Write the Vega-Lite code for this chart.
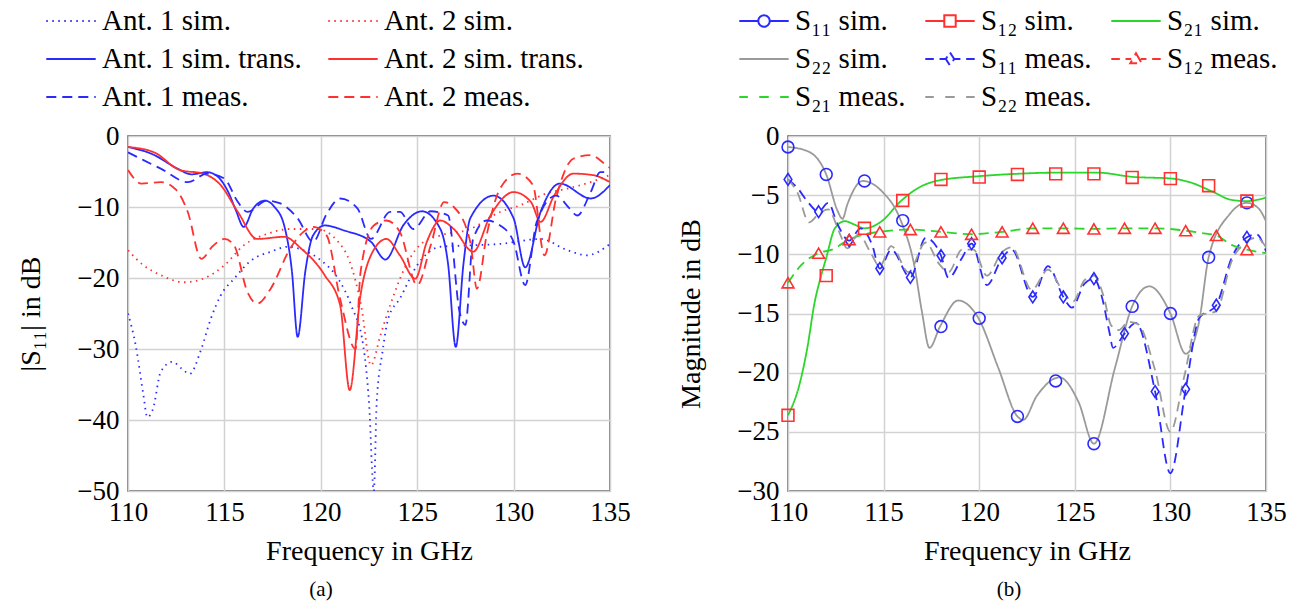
{
  "$schema": "https://vega.github.io/schema/vega-lite/v6.json",
  "background": "white",
  "padding": {"left": 17, "top": 0, "right": 5, "bottom": 5},
  "spacing": 46,
  "resolve": {
    "scale": {"color": "independent", "strokeDash": "independent", "x": "independent", "y": "independent", "shape": "independent"},
    "legend": {"color": "independent", "strokeDash": "independent", "shape": "independent"}
  },
  "config": {
    "font": "Liberation Serif",
    "view": {"stroke": "#555555", "strokeWidth": 1.5},
    "axis": {
      "labelFont": "Liberation Serif",
      "labelFontSize": 27,
      "labelColor": "black",
      "titleFont": "Liberation Serif",
      "titleFontSize": 28,
      "titleFontWeight": "normal",
      "titleColor": "black",
      "grid": true,
      "gridColor": "#d2d2d2",
      "gridWidth": 1.5,
      "domain": false,
      "ticks": false,
      "labelFlush": false,
      "labelOverlap": false
    },
    "legend": {
      "labelFont": "Liberation Serif",
      "labelFontSize": 29,
      "labelColor": "black",
      "labelLimit": 400,
      "symbolStrokeWidth": 2,
      "symbolSize": 1444,
      "labelOffset": 11,
      "rowPadding": 3,
      "direction": "horizontal",
      "symbolType": "M-1.3,0H1.3"
    },
    "title": {"font": "Liberation Serif", "fontWeight": "normal", "color": "black", "fontSize": 21}
  },
  "datasets": {
    "a": [
      {"series": "Ant. 1 sim.", "freq": 110, "mag": -25.0},
      {"series": "Ant. 1 sim.", "freq": 110.4, "mag": -29.5},
      {"series": "Ant. 1 sim.", "freq": 110.8, "mag": -36.5},
      {"series": "Ant. 1 sim.", "freq": 111.0, "mag": -39.6},
      {"series": "Ant. 1 sim.", "freq": 111.3, "mag": -38.4},
      {"series": "Ant. 1 sim.", "freq": 111.7, "mag": -33.2},
      {"series": "Ant. 1 sim.", "freq": 112.3, "mag": -31.8},
      {"series": "Ant. 1 sim.", "freq": 112.8, "mag": -32.8},
      {"series": "Ant. 1 sim.", "freq": 113.2, "mag": -33.5},
      {"series": "Ant. 1 sim.", "freq": 113.8, "mag": -30.0},
      {"series": "Ant. 1 sim.", "freq": 114.3, "mag": -25.7},
      {"series": "Ant. 1 sim.", "freq": 114.8, "mag": -22.5},
      {"series": "Ant. 1 sim.", "freq": 115.5, "mag": -20.1},
      {"series": "Ant. 1 sim.", "freq": 116.4, "mag": -17.5},
      {"series": "Ant. 1 sim.", "freq": 117.4, "mag": -16.3},
      {"series": "Ant. 1 sim.", "freq": 118.3, "mag": -15.6},
      {"series": "Ant. 1 sim.", "freq": 119.1, "mag": -16.1},
      {"series": "Ant. 1 sim.", "freq": 120.0, "mag": -17.5},
      {"series": "Ant. 1 sim.", "freq": 120.9, "mag": -20.1},
      {"series": "Ant. 1 sim.", "freq": 121.6, "mag": -24.0},
      {"series": "Ant. 1 sim.", "freq": 122.2, "mag": -29.5},
      {"series": "Ant. 1 sim.", "freq": 122.5, "mag": -37.5},
      {"series": "Ant. 1 sim.", "freq": 122.75, "mag": -50.0},
      {"series": "Ant. 1 sim.", "freq": 122.9, "mag": -37.5},
      {"series": "Ant. 1 sim.", "freq": 123.2, "mag": -30.4},
      {"series": "Ant. 1 sim.", "freq": 123.5, "mag": -25.7},
      {"series": "Ant. 1 sim.", "freq": 124.1, "mag": -22.9},
      {"series": "Ant. 1 sim.", "freq": 125.0, "mag": -18.2},
      {"series": "Ant. 1 sim.", "freq": 126.2, "mag": -15.6},
      {"series": "Ant. 1 sim.", "freq": 127.75, "mag": -15.4},
      {"series": "Ant. 1 sim.", "freq": 129.3, "mag": -15.2},
      {"series": "Ant. 1 sim.", "freq": 131.4, "mag": -14.5},
      {"series": "Ant. 1 sim.", "freq": 132.8, "mag": -16.1},
      {"series": "Ant. 1 sim.", "freq": 133.8, "mag": -16.8},
      {"series": "Ant. 1 sim.", "freq": 135, "mag": -15.2},

      {"series": "Ant. 2 sim.", "freq": 110, "mag": -16.1},
      {"series": "Ant. 2 sim.", "freq": 110.8, "mag": -18.2},
      {"series": "Ant. 2 sim.", "freq": 111.7, "mag": -19.6},
      {"series": "Ant. 2 sim.", "freq": 112.9, "mag": -20.6},
      {"series": "Ant. 2 sim.", "freq": 113.9, "mag": -20.1},
      {"series": "Ant. 2 sim.", "freq": 115.0, "mag": -18.2},
      {"series": "Ant. 2 sim.", "freq": 116.0, "mag": -15.4},
      {"series": "Ant. 2 sim.", "freq": 117.2, "mag": -13.8},
      {"series": "Ant. 2 sim.", "freq": 118.4, "mag": -13.1},
      {"series": "Ant. 2 sim.", "freq": 119.8, "mag": -13.1},
      {"series": "Ant. 2 sim.", "freq": 120.9, "mag": -14.9},
      {"series": "Ant. 2 sim.", "freq": 121.5, "mag": -17.7},
      {"series": "Ant. 2 sim.", "freq": 122.1, "mag": -24.0},
      {"series": "Ant. 2 sim.", "freq": 122.6, "mag": -32.3},
      {"series": "Ant. 2 sim.", "freq": 123.1, "mag": -28.0},
      {"series": "Ant. 2 sim.", "freq": 123.6, "mag": -23.8},
      {"series": "Ant. 2 sim.", "freq": 124.6, "mag": -17.3},
      {"series": "Ant. 2 sim.", "freq": 125.2, "mag": -15.2},
      {"series": "Ant. 2 sim.", "freq": 126.2, "mag": -14.0},
      {"series": "Ant. 2 sim.", "freq": 127.75, "mag": -13.1},
      {"series": "Ant. 2 sim.", "freq": 129.3, "mag": -10.7},
      {"series": "Ant. 2 sim.", "freq": 130.3, "mag": -9.8},
      {"series": "Ant. 2 sim.", "freq": 131.7, "mag": -8.1},
      {"series": "Ant. 2 sim.", "freq": 132.8, "mag": -7.4},
      {"series": "Ant. 2 sim.", "freq": 134.0, "mag": -6.5},
      {"series": "Ant. 2 sim.", "freq": 135, "mag": -5.5},

      {"series": "Ant. 1 sim. trans.", "freq": 110, "mag": -1.55},
      {"series": "Ant. 1 sim. trans.", "freq": 111.3, "mag": -2.6},
      {"series": "Ant. 1 sim. trans.", "freq": 112.57, "mag": -4.6},
      {"series": "Ant. 1 sim. trans.", "freq": 113.3, "mag": -5.4},
      {"series": "Ant. 1 sim. trans.", "freq": 114.1, "mag": -5.1},
      {"series": "Ant. 1 sim. trans.", "freq": 114.6, "mag": -5.6},
      {"series": "Ant. 1 sim. trans.", "freq": 115.2, "mag": -7.9},
      {"series": "Ant. 1 sim. trans.", "freq": 115.6, "mag": -10.5},
      {"series": "Ant. 1 sim. trans.", "freq": 116.0, "mag": -12.8},
      {"series": "Ant. 1 sim. trans.", "freq": 116.5, "mag": -10.2},
      {"series": "Ant. 1 sim. trans.", "freq": 117.1, "mag": -9.1},
      {"series": "Ant. 1 sim. trans.", "freq": 117.6, "mag": -10.0},
      {"series": "Ant. 1 sim. trans.", "freq": 118.1, "mag": -12.6},
      {"series": "Ant. 1 sim. trans.", "freq": 118.5, "mag": -19.0},
      {"series": "Ant. 1 sim. trans.", "freq": 118.8, "mag": -28.3},
      {"series": "Ant. 1 sim. trans.", "freq": 119.2, "mag": -19.0},
      {"series": "Ant. 1 sim. trans.", "freq": 119.6, "mag": -14.0},
      {"series": "Ant. 1 sim. trans.", "freq": 120.2, "mag": -12.6},
      {"series": "Ant. 1 sim. trans.", "freq": 121.2, "mag": -13.3},
      {"series": "Ant. 1 sim. trans.", "freq": 122.6, "mag": -14.9},
      {"series": "Ant. 1 sim. trans.", "freq": 123.35, "mag": -17.4},
      {"series": "Ant. 1 sim. trans.", "freq": 124.3, "mag": -12.5},
      {"series": "Ant. 1 sim. trans.", "freq": 125.25, "mag": -10.6},
      {"series": "Ant. 1 sim. trans.", "freq": 126.2, "mag": -13.1},
      {"series": "Ant. 1 sim. trans.", "freq": 126.6, "mag": -18.0},
      {"series": "Ant. 1 sim. trans.", "freq": 127.0, "mag": -29.7},
      {"series": "Ant. 1 sim. trans.", "freq": 127.4, "mag": -18.0},
      {"series": "Ant. 1 sim. trans.", "freq": 127.75, "mag": -11.6},
      {"series": "Ant. 1 sim. trans.", "freq": 128.96, "mag": -8.4},
      {"series": "Ant. 1 sim. trans.", "freq": 130.0, "mag": -11.6},
      {"series": "Ant. 1 sim. trans.", "freq": 130.6, "mag": -18.5},
      {"series": "Ant. 1 sim. trans.", "freq": 131.4, "mag": -10.7},
      {"series": "Ant. 1 sim. trans.", "freq": 132.4, "mag": -6.7},
      {"series": "Ant. 1 sim. trans.", "freq": 134.0, "mag": -8.8},
      {"series": "Ant. 1 sim. trans.", "freq": 135, "mag": -6.9},

      {"series": "Ant. 2 sim. trans.", "freq": 110, "mag": -1.55},
      {"series": "Ant. 2 sim. trans.", "freq": 111.35, "mag": -2.3},
      {"series": "Ant. 2 sim. trans.", "freq": 112.7, "mag": -4.8},
      {"series": "Ant. 2 sim. trans.", "freq": 113.9, "mag": -5.3},
      {"series": "Ant. 2 sim. trans.", "freq": 114.8, "mag": -6.9},
      {"series": "Ant. 2 sim. trans.", "freq": 115.7, "mag": -10.7},
      {"series": "Ant. 2 sim. trans.", "freq": 116.7, "mag": -14.5},
      {"series": "Ant. 2 sim. trans.", "freq": 118.1, "mag": -14.2},
      {"series": "Ant. 2 sim. trans.", "freq": 119.0, "mag": -15.9},
      {"series": "Ant. 2 sim. trans.", "freq": 120.2, "mag": -19.6},
      {"series": "Ant. 2 sim. trans.", "freq": 121.0, "mag": -23.8},
      {"series": "Ant. 2 sim. trans.", "freq": 121.5, "mag": -35.8},
      {"series": "Ant. 2 sim. trans.", "freq": 122.06, "mag": -22.4},
      {"series": "Ant. 2 sim. trans.", "freq": 122.6, "mag": -16.8},
      {"series": "Ant. 2 sim. trans.", "freq": 123.4, "mag": -14.5},
      {"series": "Ant. 2 sim. trans.", "freq": 124.1, "mag": -16.8},
      {"series": "Ant. 2 sim. trans.", "freq": 124.9, "mag": -20.1},
      {"series": "Ant. 2 sim. trans.", "freq": 125.5, "mag": -14.9},
      {"series": "Ant. 2 sim. trans.", "freq": 126.2, "mag": -11.9},
      {"series": "Ant. 2 sim. trans.", "freq": 126.9, "mag": -13.1},
      {"series": "Ant. 2 sim. trans.", "freq": 127.9, "mag": -16.3},
      {"series": "Ant. 2 sim. trans.", "freq": 128.8, "mag": -11.2},
      {"series": "Ant. 2 sim. trans.", "freq": 130.0, "mag": -7.9},
      {"series": "Ant. 2 sim. trans.", "freq": 130.9, "mag": -9.3},
      {"series": "Ant. 2 sim. trans.", "freq": 131.4, "mag": -12.1},
      {"series": "Ant. 2 sim. trans.", "freq": 132.1, "mag": -8.4},
      {"series": "Ant. 2 sim. trans.", "freq": 133.1, "mag": -5.3},
      {"series": "Ant. 2 sim. trans.", "freq": 134.1, "mag": -5.5},
      {"series": "Ant. 2 sim. trans.", "freq": 135, "mag": -6.5},

      {"series": "Ant. 1 meas.", "freq": 110, "mag": -2.3},
      {"series": "Ant. 1 meas.", "freq": 110.8, "mag": -3.4},
      {"series": "Ant. 1 meas.", "freq": 111.7, "mag": -4.6},
      {"series": "Ant. 1 meas.", "freq": 113.1, "mag": -6.5},
      {"series": "Ant. 1 meas.", "freq": 114.1, "mag": -5.3},
      {"series": "Ant. 1 meas.", "freq": 115.0, "mag": -6.0},
      {"series": "Ant. 1 meas.", "freq": 115.7, "mag": -9.3},
      {"series": "Ant. 1 meas.", "freq": 116.2, "mag": -10.7},
      {"series": "Ant. 1 meas.", "freq": 117.2, "mag": -9.1},
      {"series": "Ant. 1 meas.", "freq": 117.9, "mag": -9.5},
      {"series": "Ant. 1 meas.", "freq": 118.8, "mag": -11.6},
      {"series": "Ant. 1 meas.", "freq": 119.6, "mag": -14.9},
      {"series": "Ant. 1 meas.", "freq": 120.3, "mag": -11.0},
      {"series": "Ant. 1 meas.", "freq": 121.0, "mag": -8.8},
      {"series": "Ant. 1 meas.", "freq": 121.9, "mag": -10.2},
      {"series": "Ant. 1 meas.", "freq": 122.6, "mag": -14.5},
      {"series": "Ant. 1 meas.", "freq": 123.6, "mag": -10.7},
      {"series": "Ant. 1 meas.", "freq": 124.1, "mag": -10.7},
      {"series": "Ant. 1 meas.", "freq": 124.8, "mag": -13.1},
      {"series": "Ant. 1 meas.", "freq": 125.7, "mag": -10.6},
      {"series": "Ant. 1 meas.", "freq": 126.6, "mag": -11.2},
      {"series": "Ant. 1 meas.", "freq": 127.2, "mag": -24.8},
      {"series": "Ant. 1 meas.", "freq": 127.5, "mag": -26.6},
      {"series": "Ant. 1 meas.", "freq": 127.9, "mag": -14.5},
      {"series": "Ant. 1 meas.", "freq": 128.6, "mag": -11.9},
      {"series": "Ant. 1 meas.", "freq": 129.3, "mag": -12.6},
      {"series": "Ant. 1 meas.", "freq": 130.0, "mag": -14.9},
      {"series": "Ant. 1 meas.", "freq": 130.6, "mag": -21.0},
      {"series": "Ant. 1 meas.", "freq": 131.2, "mag": -12.1},
      {"series": "Ant. 1 meas.", "freq": 132.2, "mag": -8.4},
      {"series": "Ant. 1 meas.", "freq": 132.9, "mag": -10.2},
      {"series": "Ant. 1 meas.", "freq": 133.3, "mag": -11.2},
      {"series": "Ant. 1 meas.", "freq": 134.0, "mag": -7.9},
      {"series": "Ant. 1 meas.", "freq": 134.5, "mag": -5.1},
      {"series": "Ant. 1 meas.", "freq": 135, "mag": -5.1},

      {"series": "Ant. 2 meas.", "freq": 110, "mag": -4.8},
      {"series": "Ant. 2 meas.", "freq": 110.7, "mag": -6.7},
      {"series": "Ant. 2 meas.", "freq": 111.7, "mag": -6.5},
      {"series": "Ant. 2 meas.", "freq": 112.5, "mag": -7.6},
      {"series": "Ant. 2 meas.", "freq": 113.1, "mag": -10.7},
      {"series": "Ant. 2 meas.", "freq": 113.8, "mag": -17.3},
      {"series": "Ant. 2 meas.", "freq": 114.4, "mag": -15.5},
      {"series": "Ant. 2 meas.", "freq": 115.0, "mag": -14.5},
      {"series": "Ant. 2 meas.", "freq": 115.5, "mag": -15.4},
      {"series": "Ant. 2 meas.", "freq": 116.2, "mag": -22.0},
      {"series": "Ant. 2 meas.", "freq": 116.7, "mag": -23.6},
      {"series": "Ant. 2 meas.", "freq": 117.4, "mag": -21.5},
      {"series": "Ant. 2 meas.", "freq": 118.4, "mag": -15.9},
      {"series": "Ant. 2 meas.", "freq": 119.1, "mag": -13.5},
      {"series": "Ant. 2 meas.", "freq": 119.6, "mag": -12.8},
      {"series": "Ant. 2 meas.", "freq": 120.3, "mag": -14.0},
      {"series": "Ant. 2 meas.", "freq": 121.0, "mag": -22.9},
      {"series": "Ant. 2 meas.", "freq": 121.8, "mag": -30.0},
      {"series": "Ant. 2 meas.", "freq": 122.06, "mag": -19.2},
      {"series": "Ant. 2 meas.", "freq": 122.75, "mag": -12.6},
      {"series": "Ant. 2 meas.", "freq": 123.4, "mag": -11.9},
      {"series": "Ant. 2 meas.", "freq": 124.1, "mag": -13.5},
      {"series": "Ant. 2 meas.", "freq": 125.0, "mag": -21.0},
      {"series": "Ant. 2 meas.", "freq": 125.7, "mag": -15.4},
      {"series": "Ant. 2 meas.", "freq": 126.4, "mag": -9.3},
      {"series": "Ant. 2 meas.", "freq": 126.9, "mag": -10.0},
      {"series": "Ant. 2 meas.", "freq": 127.75, "mag": -14.9},
      {"series": "Ant. 2 meas.", "freq": 128.1, "mag": -21.5},
      {"series": "Ant. 2 meas.", "freq": 128.6, "mag": -14.0},
      {"series": "Ant. 2 meas.", "freq": 129.3, "mag": -7.4},
      {"series": "Ant. 2 meas.", "freq": 130.2, "mag": -5.3},
      {"series": "Ant. 2 meas.", "freq": 131.0, "mag": -6.9},
      {"series": "Ant. 2 meas.", "freq": 131.6, "mag": -16.8},
      {"series": "Ant. 2 meas.", "freq": 132.2, "mag": -8.8},
      {"series": "Ant. 2 meas.", "freq": 133.1, "mag": -3.2},
      {"series": "Ant. 2 meas.", "freq": 134.0, "mag": -2.7},
      {"series": "Ant. 2 meas.", "freq": 134.8, "mag": -4.1},
      {"series": "Ant. 2 meas.", "freq": 135, "mag": -4.5}
    ],
    "b": [
      {"series": "S₂₁ sim.", "freq": 110, "mag": -23.6},
      {"series": "S₂₁ sim.", "freq": 110.6, "mag": -21.0},
      {"series": "S₂₁ sim.", "freq": 111.0, "mag": -18.0},
      {"series": "S₂₁ sim.", "freq": 111.4, "mag": -14.0},
      {"series": "S₂₁ sim.", "freq": 111.7, "mag": -12.0},
      {"series": "S₂₁ sim.", "freq": 112.0, "mag": -10.3},
      {"series": "S₂₁ sim.", "freq": 112.45, "mag": -7.8},
      {"series": "S₂₁ sim.", "freq": 112.97, "mag": -7.2},
      {"series": "S₂₁ sim.", "freq": 113.5, "mag": -7.5},
      {"series": "S₂₁ sim.", "freq": 114.0, "mag": -7.8},
      {"series": "S₂₁ sim.", "freq": 114.9, "mag": -7.2},
      {"series": "S₂₁ sim.", "freq": 115.9, "mag": -5.5},
      {"series": "S₂₁ sim.", "freq": 116.8, "mag": -4.4},
      {"series": "S₂₁ sim.", "freq": 117.9, "mag": -3.75},
      {"series": "S₂₁ sim.", "freq": 119.96, "mag": -3.4},
      {"series": "S₂₁ sim.", "freq": 121.9, "mag": -3.2},
      {"series": "S₂₁ sim.", "freq": 124.0, "mag": -3.1},
      {"series": "S₂₁ sim.", "freq": 126.2, "mag": -3.1},
      {"series": "S₂₁ sim.", "freq": 128.0, "mag": -3.45},
      {"series": "S₂₁ sim.", "freq": 130.1, "mag": -3.6},
      {"series": "S₂₁ sim.", "freq": 131.1, "mag": -3.95},
      {"series": "S₂₁ sim.", "freq": 132.2, "mag": -4.7},
      {"series": "S₂₁ sim.", "freq": 133.2, "mag": -5.4},
      {"series": "S₂₁ sim.", "freq": 134.0, "mag": -5.5},
      {"series": "S₂₁ sim.", "freq": 135, "mag": -5.2},

      {"series": "S₂₂ sim.", "freq": 110, "mag": -0.93},
      {"series": "S₂₂ sim.", "freq": 111.05, "mag": -1.3},
      {"series": "S₂₂ sim.", "freq": 112.0, "mag": -3.25},
      {"series": "S₂₂ sim.", "freq": 112.6, "mag": -6.36},
      {"series": "S₂₂ sim.", "freq": 112.85, "mag": -7.0},
      {"series": "S₂₂ sim.", "freq": 113.1, "mag": -5.8},
      {"series": "S₂₂ sim.", "freq": 113.9, "mag": -3.8},
      {"series": "S₂₂ sim.", "freq": 114.9, "mag": -4.66},
      {"series": "S₂₂ sim.", "freq": 115.9, "mag": -7.15},
      {"series": "S₂₂ sim.", "freq": 116.6, "mag": -10.9},
      {"series": "S₂₂ sim.", "freq": 117.0, "mag": -14.8},
      {"series": "S₂₂ sim.", "freq": 117.4, "mag": -17.9},
      {"series": "S₂₂ sim.", "freq": 117.95, "mag": -16.1},
      {"series": "S₂₂ sim.", "freq": 118.9, "mag": -13.9},
      {"series": "S₂₂ sim.", "freq": 119.96, "mag": -15.4},
      {"series": "S₂₂ sim.", "freq": 121.0, "mag": -19.6},
      {"series": "S₂₂ sim.", "freq": 122.0, "mag": -23.7},
      {"series": "S₂₂ sim.", "freq": 122.3, "mag": -24.0},
      {"series": "S₂₂ sim.", "freq": 123.0, "mag": -22.0},
      {"series": "S₂₂ sim.", "freq": 124.2, "mag": -20.4},
      {"series": "S₂₂ sim.", "freq": 125.2, "mag": -22.5},
      {"series": "S₂₂ sim.", "freq": 126.0, "mag": -26.0},
      {"series": "S₂₂ sim.", "freq": 127.1, "mag": -19.6},
      {"series": "S₂₂ sim.", "freq": 128.0, "mag": -14.4},
      {"series": "S₂₂ sim.", "freq": 128.9, "mag": -12.7},
      {"series": "S₂₂ sim.", "freq": 130.0, "mag": -15.0},
      {"series": "S₂₂ sim.", "freq": 130.8, "mag": -18.4},
      {"series": "S₂₂ sim.", "freq": 131.5, "mag": -15.7},
      {"series": "S₂₂ sim.", "freq": 132.0, "mag": -10.25},
      {"series": "S₂₂ sim.", "freq": 133.1, "mag": -6.6},
      {"series": "S₂₂ sim.", "freq": 134.0, "mag": -5.65},
      {"series": "S₂₂ sim.", "freq": 134.6, "mag": -6.1},
      {"series": "S₂₂ sim.", "freq": 135, "mag": -7.2},

      {"series": "S₁₁ meas.", "freq": 110, "mag": -3.67},
      {"series": "S₁₁ meas.", "freq": 110.5, "mag": -4.4},
      {"series": "S₁₁ meas.", "freq": 111.0, "mag": -5.5},
      {"series": "S₁₁ meas.", "freq": 111.6, "mag": -6.4},
      {"series": "S₁₁ meas.", "freq": 112.1, "mag": -5.65},
      {"series": "S₁₁ meas.", "freq": 112.6, "mag": -7.5},
      {"series": "S₁₁ meas.", "freq": 113.2, "mag": -8.84},
      {"series": "S₁₁ meas.", "freq": 113.8, "mag": -7.8},
      {"series": "S₁₁ meas.", "freq": 114.4, "mag": -9.2},
      {"series": "S₁₁ meas.", "freq": 114.8, "mag": -11.2},
      {"series": "S₁₁ meas.", "freq": 115.4, "mag": -9.6},
      {"series": "S₁₁ meas.", "freq": 116.4, "mag": -11.95},
      {"series": "S₁₁ meas.", "freq": 117.2, "mag": -8.6},
      {"series": "S₁₁ meas.", "freq": 118.0, "mag": -10.1},
      {"series": "S₁₁ meas.", "freq": 118.4, "mag": -12.0},
      {"series": "S₁₁ meas.", "freq": 119.1, "mag": -10.3},
      {"series": "S₁₁ meas.", "freq": 119.6, "mag": -9.1},
      {"series": "S₁₁ meas.", "freq": 120.4, "mag": -12.6},
      {"series": "S₁₁ meas.", "freq": 121.2, "mag": -10.3},
      {"series": "S₁₁ meas.", "freq": 121.7, "mag": -9.6},
      {"series": "S₁₁ meas.", "freq": 122.8, "mag": -13.6},
      {"series": "S₁₁ meas.", "freq": 123.6, "mag": -11.0},
      {"series": "S₁₁ meas.", "freq": 124.4, "mag": -13.6},
      {"series": "S₁₁ meas.", "freq": 124.85, "mag": -14.5},
      {"series": "S₁₁ meas.", "freq": 125.5, "mag": -12.5},
      {"series": "S₁₁ meas.", "freq": 126.0, "mag": -12.06},
      {"series": "S₁₁ meas.", "freq": 126.4, "mag": -13.5},
      {"series": "S₁₁ meas.", "freq": 126.8, "mag": -16.5},
      {"series": "S₁₁ meas.", "freq": 127.0, "mag": -17.9},
      {"series": "S₁₁ meas.", "freq": 127.6, "mag": -16.7},
      {"series": "S₁₁ meas.", "freq": 128.2, "mag": -15.8},
      {"series": "S₁₁ meas.", "freq": 129.2, "mag": -21.6},
      {"series": "S₁₁ meas.", "freq": 130.0, "mag": -28.5},
      {"series": "S₁₁ meas.", "freq": 130.8, "mag": -21.4},
      {"series": "S₁₁ meas.", "freq": 131.5, "mag": -15.4},
      {"series": "S₁₁ meas.", "freq": 132.4, "mag": -14.3},
      {"series": "S₁₁ meas.", "freq": 133.2, "mag": -10.3},
      {"series": "S₁₁ meas.", "freq": 134.0, "mag": -8.56},
      {"series": "S₁₁ meas.", "freq": 134.5, "mag": -8.3},
      {"series": "S₁₁ meas.", "freq": 135, "mag": -9.75},

      {"series": "S₂₁ meas.", "freq": 110, "mag": -12.4},
      {"series": "S₂₁ meas.", "freq": 110.7, "mag": -10.9},
      {"series": "S₂₁ meas.", "freq": 111.6, "mag": -9.9},
      {"series": "S₂₁ meas.", "freq": 112.3, "mag": -9.6},
      {"series": "S₂₁ meas.", "freq": 113.2, "mag": -8.75},
      {"series": "S₂₁ meas.", "freq": 114.0, "mag": -8.3},
      {"series": "S₂₁ meas.", "freq": 114.8, "mag": -8.1},
      {"series": "S₂₁ meas.", "freq": 116.4, "mag": -7.9},
      {"series": "S₂₁ meas.", "freq": 118.0, "mag": -8.1},
      {"series": "S₂₁ meas.", "freq": 119.6, "mag": -8.3},
      {"series": "S₂₁ meas.", "freq": 121.2, "mag": -8.1},
      {"series": "S₂₁ meas.", "freq": 122.8, "mag": -7.8},
      {"series": "S₂₁ meas.", "freq": 124.4, "mag": -7.8},
      {"series": "S₂₁ meas.", "freq": 126.0, "mag": -7.85},
      {"series": "S₂₁ meas.", "freq": 127.6, "mag": -7.8},
      {"series": "S₂₁ meas.", "freq": 129.2, "mag": -7.8},
      {"series": "S₂₁ meas.", "freq": 130.8, "mag": -8.0},
      {"series": "S₂₁ meas.", "freq": 131.6, "mag": -8.2},
      {"series": "S₂₁ meas.", "freq": 132.4, "mag": -8.4},
      {"series": "S₂₁ meas.", "freq": 133.2, "mag": -9.2},
      {"series": "S₂₁ meas.", "freq": 134.0, "mag": -9.6},
      {"series": "S₂₁ meas.", "freq": 135, "mag": -9.9},

      {"series": "S₂₂ meas.", "freq": 110, "mag": -3.67},
      {"series": "S₂₂ meas.", "freq": 110.5, "mag": -4.8},
      {"series": "S₂₂ meas.", "freq": 111.1, "mag": -7.3},
      {"series": "S₂₂ meas.", "freq": 111.6, "mag": -6.6},
      {"series": "S₂₂ meas.", "freq": 112.1, "mag": -6.2},
      {"series": "S₂₂ meas.", "freq": 112.7, "mag": -8.2},
      {"series": "S₂₂ meas.", "freq": 113.1, "mag": -9.5},
      {"series": "S₂₂ meas.", "freq": 113.7, "mag": -8.3},
      {"series": "S₂₂ meas.", "freq": 114.3, "mag": -9.8},
      {"series": "S₂₂ meas.", "freq": 114.8, "mag": -11.0},
      {"series": "S₂₂ meas.", "freq": 115.4, "mag": -9.3},
      {"series": "S₂₂ meas.", "freq": 116.3, "mag": -11.5},
      {"series": "S₂₂ meas.", "freq": 117.2, "mag": -9.0},
      {"series": "S₂₂ meas.", "freq": 117.9, "mag": -10.8},
      {"series": "S₂₂ meas.", "freq": 118.4, "mag": -11.5},
      {"series": "S₂₂ meas.", "freq": 119.1, "mag": -9.6},
      {"series": "S₂₂ meas.", "freq": 119.7, "mag": -9.6},
      {"series": "S₂₂ meas.", "freq": 120.4, "mag": -11.8},
      {"series": "S₂₂ meas.", "freq": 121.2, "mag": -9.8},
      {"series": "S₂₂ meas.", "freq": 121.7, "mag": -9.4},
      {"series": "S₂₂ meas.", "freq": 122.75, "mag": -13.0},
      {"series": "S₂₂ meas.", "freq": 123.6, "mag": -11.3},
      {"series": "S₂₂ meas.", "freq": 124.4, "mag": -13.2},
      {"series": "S₂₂ meas.", "freq": 124.9, "mag": -14.0},
      {"series": "S₂₂ meas.", "freq": 125.5, "mag": -12.2},
      {"series": "S₂₂ meas.", "freq": 126.0, "mag": -11.8},
      {"series": "S₂₂ meas.", "freq": 126.5, "mag": -13.5},
      {"series": "S₂₂ meas.", "freq": 126.9, "mag": -16.0},
      {"series": "S₂₂ meas.", "freq": 127.3, "mag": -16.4},
      {"series": "S₂₂ meas.", "freq": 127.8, "mag": -15.7},
      {"series": "S₂₂ meas.", "freq": 128.3, "mag": -15.9},
      {"series": "S₂₂ meas.", "freq": 129.2, "mag": -19.8},
      {"series": "S₂₂ meas.", "freq": 130.0, "mag": -25.0},
      {"series": "S₂₂ meas.", "freq": 130.7, "mag": -20.5},
      {"series": "S₂₂ meas.", "freq": 131.5, "mag": -15.2},
      {"series": "S₂₂ meas.", "freq": 132.4, "mag": -14.8},
      {"series": "S₂₂ meas.", "freq": 133.2, "mag": -10.6},
      {"series": "S₂₂ meas.", "freq": 134.0, "mag": -8.9},
      {"series": "S₂₂ meas.", "freq": 134.5, "mag": -8.6},
      {"series": "S₂₂ meas.", "freq": 135, "mag": -9.4}
    ],
    "bm": [
      {"series": "S₁₁ sim.", "freq": 110, "mag": -0.93},
      {"series": "S₁₁ sim.", "freq": 112, "mag": -3.25},
      {"series": "S₁₁ sim.", "freq": 114, "mag": -3.8},
      {"series": "S₁₁ sim.", "freq": 116, "mag": -7.15},
      {"series": "S₁₁ sim.", "freq": 118, "mag": -16.1},
      {"series": "S₁₁ sim.", "freq": 120, "mag": -15.4},
      {"series": "S₁₁ sim.", "freq": 122, "mag": -23.7},
      {"series": "S₁₁ sim.", "freq": 124, "mag": -20.7},
      {"series": "S₁₁ sim.", "freq": 126, "mag": -26.0},
      {"series": "S₁₁ sim.", "freq": 128, "mag": -14.4},
      {"series": "S₁₁ sim.", "freq": 130, "mag": -15.0},
      {"series": "S₁₁ sim.", "freq": 132, "mag": -10.25},
      {"series": "S₁₁ sim.", "freq": 134, "mag": -5.65},
      {"series": "S₁₂ sim.", "freq": 110, "mag": -23.6},
      {"series": "S₁₂ sim.", "freq": 112, "mag": -11.8},
      {"series": "S₁₂ sim.", "freq": 114, "mag": -7.8},
      {"series": "S₁₂ sim.", "freq": 116, "mag": -5.45},
      {"series": "S₁₂ sim.", "freq": 118, "mag": -3.67},
      {"series": "S₁₂ sim.", "freq": 120, "mag": -3.47},
      {"series": "S₁₂ sim.", "freq": 122, "mag": -3.25},
      {"series": "S₁₂ sim.", "freq": 124, "mag": -3.2},
      {"series": "S₁₂ sim.", "freq": 126, "mag": -3.2},
      {"series": "S₁₂ sim.", "freq": 128, "mag": -3.5},
      {"series": "S₁₂ sim.", "freq": 130, "mag": -3.6},
      {"series": "S₁₂ sim.", "freq": 132, "mag": -4.2},
      {"series": "S₁₂ sim.", "freq": 134, "mag": -5.5},
      {"series": "S₁₁ meas.", "freq": 110, "mag": -3.67},
      {"series": "S₁₁ meas.", "freq": 111.6, "mag": -6.4},
      {"series": "S₁₁ meas.", "freq": 113.2, "mag": -8.84},
      {"series": "S₁₁ meas.", "freq": 114.8, "mag": -11.2},
      {"series": "S₁₁ meas.", "freq": 116.4, "mag": -11.95},
      {"series": "S₁₁ meas.", "freq": 118.0, "mag": -10.1},
      {"series": "S₁₁ meas.", "freq": 119.6, "mag": -9.1},
      {"series": "S₁₁ meas.", "freq": 121.2, "mag": -10.3},
      {"series": "S₁₁ meas.", "freq": 122.8, "mag": -13.6},
      {"series": "S₁₁ meas.", "freq": 124.4, "mag": -13.6},
      {"series": "S₁₁ meas.", "freq": 126.0, "mag": -12.06},
      {"series": "S₁₁ meas.", "freq": 127.6, "mag": -16.7},
      {"series": "S₁₁ meas.", "freq": 129.2, "mag": -21.6},
      {"series": "S₁₁ meas.", "freq": 130.8, "mag": -21.4},
      {"series": "S₁₁ meas.", "freq": 132.4, "mag": -14.3},
      {"series": "S₁₁ meas.", "freq": 134.0, "mag": -8.56},
      {"series": "S₁₂ meas.", "freq": 110, "mag": -12.4},
      {"series": "S₁₂ meas.", "freq": 111.6, "mag": -9.9},
      {"series": "S₁₂ meas.", "freq": 113.2, "mag": -8.75},
      {"series": "S₁₂ meas.", "freq": 114.8, "mag": -8.1},
      {"series": "S₁₂ meas.", "freq": 116.4, "mag": -7.9},
      {"series": "S₁₂ meas.", "freq": 118.0, "mag": -8.1},
      {"series": "S₁₂ meas.", "freq": 119.6, "mag": -8.3},
      {"series": "S₁₂ meas.", "freq": 121.2, "mag": -8.1},
      {"series": "S₁₂ meas.", "freq": 122.8, "mag": -7.8},
      {"series": "S₁₂ meas.", "freq": 124.4, "mag": -7.8},
      {"series": "S₁₂ meas.", "freq": 126.0, "mag": -7.85},
      {"series": "S₁₂ meas.", "freq": 127.6, "mag": -7.8},
      {"series": "S₁₂ meas.", "freq": 129.2, "mag": -7.8},
      {"series": "S₁₂ meas.", "freq": 130.8, "mag": -8.0},
      {"series": "S₁₂ meas.", "freq": 132.4, "mag": -8.4},
      {"series": "S₁₂ meas.", "freq": 134.0, "mag": -9.6}
    ]
  },
  "hconcat": [
    {
      "width": 482,
      "height": 355,
      "title": {"text": "(a)", "orient": "bottom", "offset": 14, "dx": -48},
      "data": {"name": "a"},
      "mark": {"type": "line", "interpolate": "monotone", "strokeWidth": 1.8, "clip": true},
      "encoding": {
        "x": {"field": "freq", "type": "quantitative", "scale": {"domain": [110, 135], "nice": false, "zero": false},
              "axis": {"values": [110, 115, 120, 125, 130, 135], "title": "Frequency in GHz", "labelPadding": 8, "titlePadding": 12}},
        "y": {"field": "mag", "type": "quantitative", "scale": {"domain": [-50, 0], "nice": false},
              "axis": {"values": [-50, -40, -30, -20, -10, 0], "title": "|S₁₁| in dB", "labelPadding": 9, "titlePadding": 31}},
        "color": {"field": "series", "type": "nominal",
          "scale": {"domain": ["Ant. 1 sim.", "Ant. 2 sim.", "Ant. 1 sim. trans.", "Ant. 2 sim. trans.", "Ant. 1 meas.", "Ant. 2 meas."],
                    "range": ["#2a2aff", "#ff3030", "#2a2aff", "#ff3030", "#2a2aff", "#ff3030"]},
          "legend": {"title": null, "orient": "none", "legendX": -77, "legendY": -135, "columns": 2, "columnPadding": 22, "direction": "horizontal",
                     "encode": {"symbols": {"update": {"fill": {"value": "transparent"}}}}}},
        "strokeDash": {"field": "series", "type": "nominal",
          "scale": {"domain": ["Ant. 1 sim.", "Ant. 2 sim.", "Ant. 1 sim. trans.", "Ant. 2 sim. trans.", "Ant. 1 meas.", "Ant. 2 meas."],
                    "range": [[1.5, 4.5], [1.5, 4.5], [1, 0], [1, 0], [10, 6], [10, 6]]},
          "legend": {"title": null, "orient": "none", "legendX": -77, "legendY": -135, "columns": 2, "columnPadding": 22, "direction": "horizontal"}}
      }
    },
    {
      "width": 478,
      "height": 355,
      "title": {"text": "(b)", "orient": "bottom", "offset": 14, "dx": -18},
      "resolve": {"scale": {"shape": "independent"}},
      "layer": [
        {
          "data": {"name": "b"},
          "mark": {"type": "line", "interpolate": "monotone", "strokeWidth": 1.8, "clip": true},
          "encoding": {
            "x": {"field": "freq", "type": "quantitative", "scale": {"domain": [110, 135], "nice": false, "zero": false},
                  "axis": {"values": [110, 115, 120, 125, 130, 135], "title": "Frequency in GHz", "labelPadding": 8, "titlePadding": 12}},
            "y": {"field": "mag", "type": "quantitative", "scale": {"domain": [-30, 0], "nice": false},
                  "axis": {"values": [-30, -25, -20, -15, -10, -5, 0], "title": "Magnitude in dB", "labelPadding": 9, "titlePadding": 31}},
            "color": {"field": "series", "type": "nominal",
              "scale": {"domain": ["S₁₁ sim.", "S₁₂ sim.", "S₂₁ sim.", "S₂₂ sim.", "S₁₁ meas.", "S₁₂ meas.", "S₂₁ meas.", "S₂₂ meas."],
                        "range": ["#2a2aff", "#ff3030", "#2ad62a", "#9a9a9a", "#2a2aff", "#ff3030", "#2ad62a", "#9a9a9a"]},
              "legend": {"title": null, "orient": "none", "legendX": -44, "legendY": -135, "columns": 3, "columnPadding": 15, "direction": "horizontal",
                "encode": {"symbols": {"update": {
                  "fill": {"value": "transparent"},
                  "strokeDash": {"value": [1, 0]},
                  "shape": {"signal": "datum.value === 'S₁₁ sim.' ? 'M-1.3,0H-0.3M0.3,0H1.3M-0.3,0A0.3,0.3,0,1,1,0.3,0A0.3,0.3,0,1,1,-0.3,0' : datum.value === 'S₁₂ sim.' ? 'M-1.3,0H-0.3M0.3,0H1.3M-0.3,-0.3H0.3V0.3H-0.3Z' : datum.value === 'S₁₁ meas.' ? 'M-1.3,0H-0.85M-0.55,0H-0.25M0.25,0H0.55M0.85,0H1.3M0,-0.34L0.22,0L0,0.34L-0.22,0Z' : datum.value === 'S₁₂ meas.' ? 'M-1.3,0H-0.85M-0.55,0H-0.25M0.25,0H0.55M0.85,0H1.3M0,-0.3L0.3,0.22H-0.3Z' : indexof(datum.value, 'meas') >= 0 ? 'M-1.3,0H-0.85M-0.25,0H0.25M0.85,0H1.3' : 'M-1.3,0H1.3'"}
                }}}}},
            "strokeDash": {"field": "series", "type": "nominal",
              "scale": {"domain": ["S₁₁ sim.", "S₁₂ sim.", "S₂₁ sim.", "S₂₂ sim.", "S₁₁ meas.", "S₁₂ meas.", "S₂₁ meas.", "S₂₂ meas."],
                        "range": [[1, 0], [1, 0], [1, 0], [1, 0], [10, 6], [10, 6], [10, 6], [10, 6]]},
              "legend": null}
          }
        },
        {
          "data": {"name": "bm"},
          "mark": {"type": "point", "filled": false, "strokeWidth": 1.6, "size": 140, "opacity": 1, "clip": false},
          "encoding": {
            "x": {"field": "freq", "type": "quantitative"},
            "y": {"field": "mag", "type": "quantitative"},
            "color": {"field": "series", "type": "nominal"},
            "shape": {"field": "series", "type": "nominal",
              "scale": {"domain": ["S₁₁ sim.", "S₁₂ sim.", "S₁₁ meas.", "S₁₂ meas."],
                        "range": ["circle", "square", "M0,-1L0.65,0L0,1L-0.65,0Z", "triangle-up"]},
              "legend": null}
          }
        }
      ]
    }
  ]
}
